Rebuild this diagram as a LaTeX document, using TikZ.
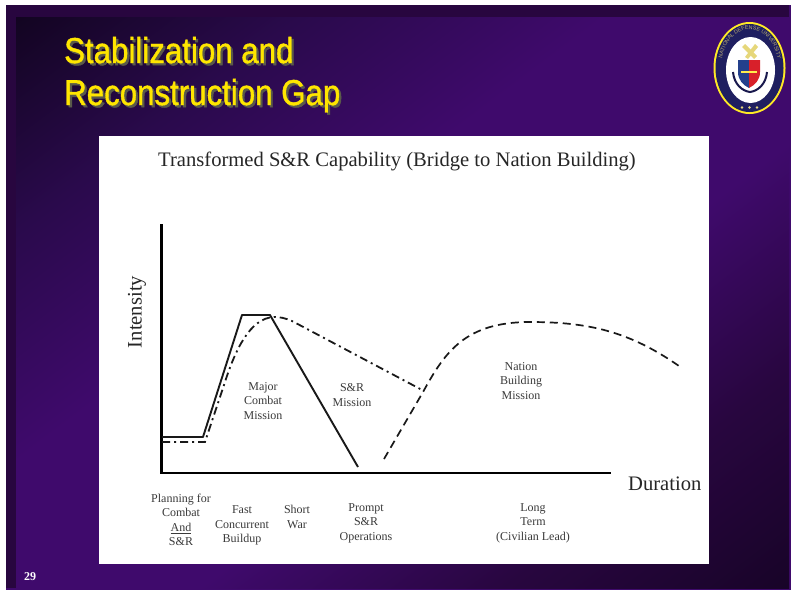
\documentclass[tikz,border=0pt]{standalone}
\usepackage{fontspec}
\setmainfont{Liberation Serif}
\newfontfamily\ttlfont[FakeBold=1.2]{Liberation Sans}
\newfontfamily\sealfont{Liberation Sans}
\usetikzlibrary{decorations.text}
\definecolor{slidepurple}{HTML}{3F0A6C}
\definecolor{framepurple}{HTML}{28063F}
\definecolor{bgstepa}{HTML}{2A0A4C}
\definecolor{bgstepb}{HTML}{28063F}
\definecolor{bgstepc}{HTML}{180428}
\definecolor{titleyellow}{HTML}{FFE600}
\definecolor{titleshadow}{HTML}{5A5A4A}
\definecolor{labelgray}{HTML}{3A3A3A}
\definecolor{sealblue}{HTML}{1F1F60}
\definecolor{sealred}{HTML}{D8202A}
\definecolor{sealshield}{HTML}{24408C}
\definecolor{sealgold}{HTML}{E6D77A}
\pgfdeclareverticalshading{slidebg}{100bp}{
  color(0bp)=(black); color(4bp)=(black); color(15bp)=(bgstepc); color(28bp)=(bgstepb);
  color(42bp)=(slidepurple); color(58bp)=(slidepurple); color(72bp)=(bgstepa);
  color(95bp)=(black); color(100bp)=(black)}
\tikzset{
  titletext/.style={anchor=base west,inner sep=0,xscale=.868,font=\ttlfont\fontsize{36}{36}\selectfont},
  smalllabel/.style={align=center,inner sep=0,text=labelgray,font=\fontsize{12}{14.4}\selectfont},
  biglabel/.style={inner sep=0,text=black!85,font=\fontsize{20.6}{22}\selectfont},
  axisline/.style={line width=2.6pt,black},
  solidcurve/.style={line width=1.9pt,black!90,line join=round},
  dashdotcurve/.style={line width=1.8pt,black!90,dash pattern=on 8pt off 4pt on 2pt off 4pt},
  dashcurve/.style={line width=1.7pt,black!90,dash pattern=on 8pt off 5pt}
}
\begin{document}
\begin{tikzpicture}[x=1pt,y=-1pt]
\useasboundingbox (0,0) rectangle (791,590);
\fill[white] (0,0) rectangle (791,590);
% slide background
\fill[framepurple] (6,5) rectangle (789,588);
\fill[slidepurple] (6,588) rectangle (791,590);
\fill[slidepurple] (789,5) rectangle (791,590);
\shade[shading=slidebg,shading angle=37] (16,17) rectangle (789,588);
% title
\foreach \tx/\ty/\tc in {2.2/2.2/titleshadow,0/0/titleyellow}{
  \node[titletext,text=\tc] at (64+\tx,63+\ty) {Stabilization and};
  \node[titletext,text=\tc] at (64+\tx,105+\ty) {Reconstruction Gap};
}
% seal
\fill[titleyellow!85!white] (749.5,68) ellipse [x radius=36,y radius=46];
\fill[sealblue] (749.5,68) ellipse [x radius=34,y radius=44];
\fill[white] (750.5,70) ellipse [x radius=24.5,y radius=33];
\path[decorate,decoration={text along path,text align=center,
  text={|\sealfont\fontsize{5.4}{6}\selectfont\color{sealgold!75!sealblue}|NATIONAL DEFENSE UNIVERSITY}}]
  (722,84) .. controls (712,11) and (787,11) .. (778,84);
\foreach \sx in {742,749.5,757} \fill[sealgold] (\sx,107.5) circle (1.3);
\fill[sealshield] (738,60) -- (749,60) -- (749,88) .. controls (743,85) and (738,80) .. (738,72) -- cycle;
\fill[sealred] (749,60) -- (760,60) -- (760,72) .. controls (760,80) and (755,85) .. (749,88) -- cycle;
\fill[sealgold] (742,47) -- (745,44) -- (757,56) -- (754,59) -- cycle;
\fill[sealgold] (755,44) -- (758,47) -- (748,59) -- (745,57) -- cycle;
\draw[titleyellow!70!white,line width=1.2pt] (741,72) -- (757,72);
\draw[sealblue!80!black,line width=2pt] (733,72) .. controls (734,84) and (742,91) .. (750,92) .. controls (758,91) and (766,84) .. (767,72);
% panel
\fill[white] (99,136) rectangle (709,564);
% chart
\node[biglabel] (heading) at (397,161) {Transformed S\&R Capability (Bridge to Nation Building)};
\coordinate (origin) at (161.5,473);
\coordinate (ytop) at (161.5,224);
\coordinate (xend) at (611,473);
\draw[axisline] (ytop) -- (origin) -- (xend);
\draw[solidcurve] (162,437) -- (203,437) -- (242,315) -- (270,315) -- (358,467);
\draw[dashdotcurve] (162,442) -- (205,442) -- (224,385) .. controls (235,350) and (250,318) .. (274,317) .. controls (280,317) and (285,318) .. (292,321) -- (424,391);
\draw[dashcurve] (384,459) -- (423,392) .. controls (445,352) and (465,322) .. (530,322) .. controls (590,322) and (630,332) .. (679,366);
\node[biglabel,rotate=90] (intensity) at (137,312) {Intensity};
\node[biglabel,anchor=base west] (duration) at (628,490) {Duration};
\node[smalllabel] (major) at (263,401) {Major\\Combat\\Mission};
\node[smalllabel] (srm) at (352,395) {S\&R\\Mission};
\node[smalllabel] (nation) at (521,381) {Nation\\Building\\Mission};
\node[smalllabel] (plan) at (181,520) {Planning for\\Combat\\\underline{And}\\S\&R};
\node[smalllabel] (fast) at (242,525.5) {Fast\\Concurrent\\Buildup};
\node[smalllabel] (short) at (297,517) {Short\\War};
\node[smalllabel] (prompt) at (366,523) {Prompt\\S\&R\\Operations};
\node[smalllabel] (long) at (533,523) {Long\\Term\\(Civilian Lead)};
\node[inner sep=0,text=white,font=\bfseries\fontsize{12}{12}\selectfont] (pageno) at (30,577) {29};
\end{tikzpicture}
\end{document}
